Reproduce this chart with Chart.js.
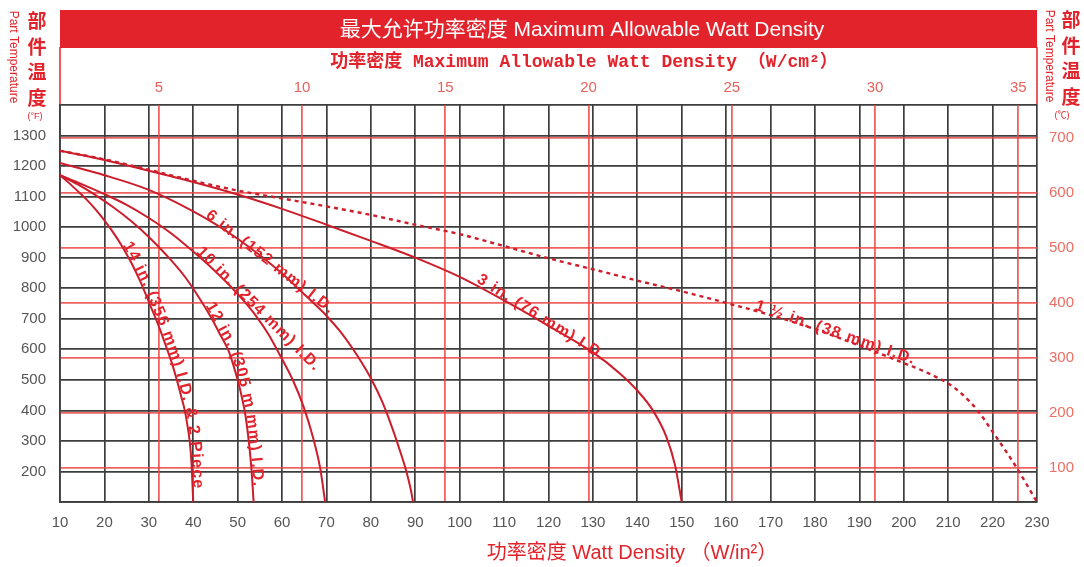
<!DOCTYPE html>
<html><head><meta charset="utf-8">
<script src="https://cdn.jsdelivr.net/npm/chart.js@4.4.0/dist/chart.umd.min.js"></script>
<style>html,body{margin:0;padding:0;background:#fff;}canvas{display:block;}</style>
</head><body>
<canvas id="c" width="1084" height="567"></canvas>
<script>
// ---- tick labels ----
const xTicksWin = [10,20,30,40,50,60,70,80,90,100,110,120,130,140,150,160,170,180,190,200,210,220,230];
const yTicksF   = [100,200,300,400,500,600,700,800,900,1000,1100,1200,1300,1400];
const xTicksWcm = [5,10,15,20,25,30,35];
const yTicksC   = [100,200,300,400,500,600,700];

// ---- series (x: W/in², y: °F) ----
const x_1_5in = [10,20,30,40,50,60,70,80,90,100,110,120,130,140,150,160,170,180,190,200,205,210,213,216.5,220,225,230];
const y_1_5in = [1250,1222,1188,1152,1120,1094,1068,1040,1008,977,938,898,862,825,790,752,712,666,612,555,525,488,455,402,330,222,100];

const x_3in = [10,20,30,40,50,60,70,80,90,100,110,120,130,136,140,143.5,146.5,148.5,150];
const y_3in = [1250,1220,1185,1148,1107,1060,1008,955,900,837,760,677,590,522,465,400,315,220,100];

const x_6in = [10,20,30,40,45,50,55,60,65,70,73,76,78,80,82.5,84.5,86.5,88,89,89.5];
const y_6in = [1210,1170,1122,1052,1010,962,908,848,780,710,660,600,555,505,430,355,270,200,140,100];

const x_10in = [10,15,20,25,30,35,40,45,48,51,54,57,60,62.5,64.9,67,68.6,69.7];
const y_10in = [1170,1140,1108,1073,1030,980,920,855,812,765,712,648,568,497,410,310,210,100];

const x_12in = [10,14,18,22,26,30,34,38,41.5,44,46,47.9,49,50,51,51.8,52.5,53.1,53.6];
const y_12in = [1170,1140,1105,1065,1020,968,908,840,765,705,650,597,550,500,440,380,300,210,100];

const x_14in = [10,12,14,16,18,20,22,24,26,28,30.3,32,34,35.3,36.3,37.3,38.1,38.7,39.2,39.6,40];
const y_14in = [1170,1145,1118,1090,1058,1022,982,937,885,825,745,685,605,550,500,445,400,350,300,230,100];

const seriesNames = ['1 ½ in. (38 mm) I.D.','3 in. (76 mm) I.D.','6 in. (152 mm) I.D.','10 in. (254 mm) I.D.','12 in. (305 m mm) I.D.','14 in. (356 mm) I.D. & 2 Piece'];

const IN2_PER_CM2 = 6.4516;
const toC = f => (f - 32) / 1.8;

const RED = '#e3232b';
const CURVE = '#cc1d2b';
const pts = (xs, ys) => xs.map((x, i) => ({x, y: ys[i]}));

// label placement: start on curve at startX; straight labels use a fixed angle (deg)
const labelDefs = [
  {ds:0, startX:166,  off:1, angle:19},
  {ds:1, startX:103,  off:3, angle:32},
  {ds:2, startX:42.5, off:1, angle:38},
  {ds:3, startX:40.4, off:1, angle:45},
  {ds:4, startX:42.5, off:1},
  {ds:5, startX:23.9, off:1}
];

function curvePath(meta){
  const p = meta.data, P = [];
  for (let i = 0; i < p.length - 1; i++) {
    const a = p[i], b = p[i+1];
    const c1x = a.cp2x ?? a.x, c1y = a.cp2y ?? a.y, c2x = b.cp1x ?? b.x, c2y = b.cp1y ?? b.y;
    for (let k = 0; k < 24; k++) {
      const t = k/24, m = 1-t;
      P.push([m*m*m*a.x + 3*m*m*t*c1x + 3*m*t*t*c2x + t*t*t*b.x,
              m*m*m*a.y + 3*m*m*t*c1y + 3*m*t*t*c2y + t*t*t*b.y]);
    }
  }
  const l = p[p.length-1]; P.push([l.x, l.y]);
  const L = [0];
  for (let i = 1; i < P.length; i++) L.push(L[i-1] + Math.hypot(P[i][0]-P[i-1][0], P[i][1]-P[i-1][1]));
  return {P, L};
}
function at(path, s){
  const {P, L} = path;
  let i = 1; while (i < L.length - 1 && L[i] < s) i++;
  const seg = L[i] - L[i-1] || 1, t = Math.max(0, Math.min(1, (s - L[i-1]) / seg));
  const x = P[i-1][0] + (P[i][0]-P[i-1][0])*t, y = P[i-1][1] + (P[i][1]-P[i-1][1])*t;
  const j0 = Math.max(0, i-4), j1 = Math.min(P.length-1, i+3);
  return {x, y, a: Math.atan2(P[j1][1]-P[j0][1], P[j1][0]-P[j0][0])};
}

const decor = {
  id: 'decor',
  beforeDraw(chart){
    const ctx = chart.ctx, ca = chart.chartArea;
    ctx.save();
    ctx.fillStyle = '#fff'; ctx.fillRect(0,0,chart.width,chart.height);
    ctx.fillStyle = RED; ctx.fillRect(ca.left, 10, ca.right - ca.left, 38);
    ctx.strokeStyle = RED; ctx.lineWidth = 1.5;
    ctx.beginPath(); ctx.moveTo(ca.left, 47); ctx.lineTo(ca.left, ca.top);
    ctx.moveTo(ca.right, 47); ctx.lineTo(ca.right, ca.top); ctx.stroke();
    ctx.fillStyle = '#fff'; ctx.textAlign = 'center'; ctx.textBaseline = 'middle';
    ctx.font = '21px "Liberation Sans", "Noto Sans CJK SC", sans-serif';
    ctx.fillText('最大允许功率密度 Maximum Allowable Watt Density', 582, 30);
    ctx.fillStyle = RED;
    ctx.font = 'bold 18px "Liberation Mono", "Noto Sans CJK SC", monospace';
    ctx.fillText('功率密度 Maximum Allowable Watt Density （W/cm²）', 584, 62);
    ctx.font = '20px "Liberation Sans", "Noto Sans CJK SC", sans-serif';
    ctx.fillText('功率密度 Watt Density （W/in²）', 632, 553);
    ctx.font = 'bold 19px "Noto Sans CJK SC", sans-serif';
    const side = '部件温度';
    for (let i = 0; i < 4; i++) {
      ctx.fillText(side[i], 37, 21 + i*25.5);
      ctx.fillText(side[i], 1071, 20 + i*25.5);
    }
    ctx.font = '9px "Liberation Sans", "Noto Sans CJK SC", sans-serif';
    ctx.fillText('(°F)', 35, 117);
    ctx.fillText('(℃)', 1062, 116);
    ctx.font = '12px "Liberation Sans", sans-serif';
    ctx.save(); ctx.translate(13, 57); ctx.rotate(Math.PI/2); ctx.fillText('Part Temperature', 0, 0); ctx.restore();
    ctx.save(); ctx.translate(1049, 56); ctx.rotate(Math.PI/2); ctx.fillText('Part Temperature', 0, 0); ctx.restore();
    ctx.restore();
  },
  afterDatasetsDraw(chart){
    const ctx = chart.ctx;
    ctx.save();
    ctx.fillStyle = RED;
    ctx.font = 'bold 16px "Liberation Sans", Arial, sans-serif';
    ctx.textBaseline = 'alphabetic'; ctx.textAlign = 'left';
    const xs = chart.scales.x;
    labelDefs.forEach(d => {
      const meta = chart.getDatasetMeta(d.ds);
      const path = curvePath(meta);
      const px = xs.getPixelForValue(d.startX);
      let k = 0; while (k < path.P.length - 1 && path.P[k][0] < px) k++;
      let s = path.L[k];
      const p0 = {x: path.P[k][0], y: path.P[k][1]};
      const text = seriesNames[d.ds];
      if (d.angle !== undefined) {
        const a = d.angle * Math.PI / 180;
        ctx.save();
        ctx.translate(p0.x + Math.sin(a)*d.off, p0.y - Math.cos(a)*d.off);
        ctx.rotate(a);
        let cx = 0;
        for (const ch of text) { ctx.fillText(ch, cx, 0); cx += ctx.measureText(ch).width + 1.2; }
        ctx.restore();
      } else {
        for (const ch of text) {
          const w = ctx.measureText(ch).width;
          const p = at(path, s + w/2);
          ctx.save();
          ctx.translate(p.x + Math.sin(p.a)*d.off, p.y - Math.cos(p.a)*d.off);
          ctx.rotate(p.a);
          ctx.fillText(ch, -w/2, 0);
          ctx.restore();
          s += w + 1.2;
        }
      }
    });
    ctx.restore();
  }
};

const mk = (xs, ys, i, dash) => ({
  label: seriesNames[i], data: pts(xs, ys), borderColor: CURVE, borderWidth: dash ? 2.4 : 2,
  borderDash: dash ? [4,4] : [], pointRadius: 0, cubicInterpolationMode: 'monotone', fill: false,
  xAxisID: 'x', yAxisID: 'y'
});

const tickFont = {family: '"Liberation Sans", Arial, sans-serif', size: 15};

new Chart(document.getElementById('c'), {
  type: 'line',
  data: { datasets: [
    mk(x_1_5in, y_1_5in, 0, true),
    mk(x_3in, y_3in, 1),
    mk(x_6in, y_6in, 2),
    mk(x_10in, y_10in, 3),
    mk(x_12in, y_12in, 4),
    mk(x_14in, y_14in, 5)
  ]},
  options: {
    responsive: false, animation: false, devicePixelRatio: 1,
    layout: {padding: 0},
    plugins: {legend: {display: false}, tooltip: {enabled: false}, title: {display: false}},
    scales: {
      x: {
        type: 'linear', position: 'bottom', min: xTicksWin[0], max: xTicksWin[xTicksWin.length-1],
        afterBuildTicks: s => { s.ticks = xTicksWin.map(v => ({value: v})); },
        afterFit: s => { s.height = 65; },
        grid: {color: '#3d3d3d', lineWidth: 1.7, drawTicks: false},
        border: {display: true, color: '#3d3d3d', width: 1.7},
        ticks: {color: '#555', font: tickFont, padding: 12, maxRotation: 0, autoSkip: false}
      },
      y: {
        type: 'linear', position: 'left', min: yTicksF[0], max: yTicksF[yTicksF.length-1],
        afterBuildTicks: s => { s.ticks = yTicksF.map(v => ({value: v})); },
        afterFit: s => { s.width = 60; },
        grid: {color: '#3d3d3d', lineWidth: 1.7, drawTicks: false},
        border: {display: true, color: '#3d3d3d', width: 1.7},
        ticks: {color: '#555', font: tickFont, padding: 14, autoSkip: false,
                callback: v => (v === yTicksF[0] || v === yTicksF[yTicksF.length-1]) ? '' : v}
      },
      x2: {
        type: 'linear', position: 'top', min: xTicksWin[0]/IN2_PER_CM2, max: xTicksWin[xTicksWin.length-1]/IN2_PER_CM2,
        afterBuildTicks: s => { s.ticks = xTicksWcm.map(v => ({value: v})); },
        afterFit: s => { s.height = 105; },
        grid: {color: 'rgba(236,70,70,0.85)', lineWidth: 1.8, drawTicks: false},
        border: {display: false},
        ticks: {color: '#e8625a', font: tickFont, padding: 8, maxRotation: 0, autoSkip: false}
      },
      y2: {
        type: 'linear', position: 'right', min: toC(yTicksF[0]), max: toC(yTicksF[yTicksF.length-1]),
        afterBuildTicks: s => { s.ticks = yTicksC.map(v => ({value: v})); },
        afterFit: s => { s.width = 47; },
        grid: {color: 'rgba(236,70,70,0.85)', lineWidth: 1.8, drawTicks: false},
        border: {display: false},
        ticks: {color: '#ee6d62', font: tickFont, padding: 12, autoSkip: false}
      }
    }
  },
  plugins: [decor]
});
</script>
</body></html>
